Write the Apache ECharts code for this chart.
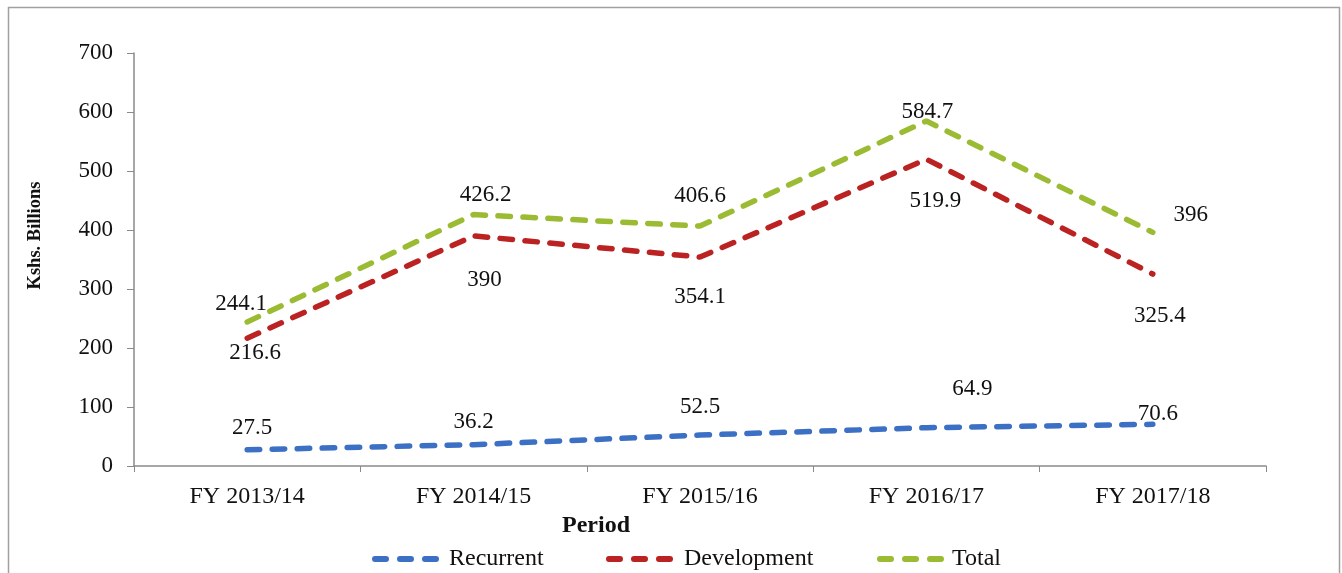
<!DOCTYPE html>
<html><head><meta charset="utf-8">
<script src="https://cdn.jsdelivr.net/npm/echarts@6/dist/echarts.min.js"></script>
<style>html,body{margin:0;padding:0;background:#fff}#c{width:1342px;height:573px}</style>
</head><body><div id="c"></div>
<script>
const categories = ['FY 2013/14','FY 2014/15','FY 2015/16','FY 2016/17','FY 2017/18'];
const recurrent = [27.5, 36.2, 52.5, 64.9, 70.6];
const development = [216.6, 390, 354.1, 519.9, 325.4];
const total = [244.1, 426.2, 406.6, 584.7, 396];
const yTicks = {min: 0, max: 700, interval: 100};

// label offsets (styling only)
const recOff = [[5,-22],[0,-23],[0,-28],[46,-39],[5,-10]];
const devOff = [[8,15],[11,44],[0,40],[9,42],[7,42]];
const totOff = [[-6,-18],[12,-20],[0,-30],[1,-9],[38,-17]];

const FONT = '"Liberation Serif", "Times New Roman", serif';
const dashIcon = 'path://M3,0h11a3,3 0 0 1 0,6h-11a3,3 0 0 1 0,-6z M28,0h11a3,3 0 0 1 0,6h-11a3,3 0 0 1 0,-6z M53,0h11a3,3 0 0 1 0,6h-11a3,3 0 0 1 0,-6z';

function mk(name, vals, offs, color){
  return {
    name, type:'line', data: vals.map((v,i)=>({value:v, label:{offset:offs[i]}})),
    symbol:'circle', symbolSize:0.1, showSymbol:true,
    itemStyle:{color},
    lineStyle:{color, width:5.5, type:[12.5,12.5], cap:'round'},
    label:{show:true, position:'inside', fontFamily:FONT, fontSize:23, color:'#111'},
    animation:false, z:3
  };
}
function lg(name, left, pad){
  return {
    data:[name], top:542, left:left, itemWidth:67, itemHeight:6,
    icon: dashIcon,
    textStyle:{fontFamily:FONT, fontSize:24, color:'#111', padding:[0,0,0,pad]}
  };
}
const chart = echarts.init(document.getElementById('c'), null, {renderer:'canvas'});
chart.setOption({
  backgroundColor:'#fff',
  animation:false,
  graphic:[{type:'rect', shape:{x:8.5,y:7.5,width:1331,height:620}, style:{fill:'none', stroke:'#a0a0a0', lineWidth:1.5}, silent:true}],
  grid:{left:134, right:76, top:53, bottom:107},
  legend:[lg('Recurrent',367,5), lg('Development',601,6), lg('Total',872,3)],
  xAxis:{
    type:'category', data:categories, boundaryGap:true,
    name:'Period', nameLocation:'middle', nameGap:44,
    nameTextStyle:{fontFamily:FONT, fontSize:24, fontWeight:'bold', color:'#111', padding:[0,208,0,0]},
    axisLine:{lineStyle:{color:'#8a8a8a', width:1.5}},
    axisTick:{show:true, length:6, alignWithLabel:false, lineStyle:{color:'#8a8a8a'}},
    axisLabel:{fontFamily:FONT, fontSize:24, color:'#111', margin:19}
  },
  yAxis:{
    type:'value', min:yTicks.min, max:yTicks.max, interval:yTicks.interval,
    name:'Kshs. Billions', nameLocation:'middle', nameGap:89, nameRotate:90,
    nameTextStyle:{fontFamily:FONT, fontSize:18.5, fontWeight:'bold', color:'#111', padding:[0,0,0,48]},
    axisLine:{show:true, lineStyle:{color:'#8a8a8a', width:1.5}},
    axisTick:{show:true, length:7, lineStyle:{color:'#8a8a8a'}},
    splitLine:{show:false},
    axisLabel:{fontFamily:FONT, fontSize:23, color:'#111', margin:21}
  },
  series:[
    mk('Recurrent', recurrent, recOff, '#3b70c4'),
    mk('Development', development, devOff, '#bb2222'),
    mk('Total', total, totOff, '#9bbb33')
  ]
});
</script></body></html>
